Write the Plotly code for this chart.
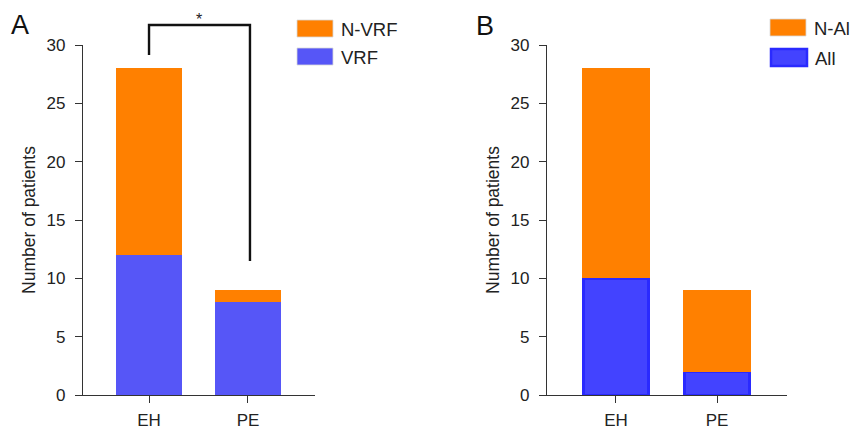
import plotly.graph_objects as go

categories = ["EH", "PE"]
vrf = [12, 8]
n_vrf = [16, 1]
all_vals = [10, 2]
n_all = [18, 7]
yticks = [0, 5, 10, 15, 20, 25, 30]

ORANGE = "#FF8000"
BLUE_A = "#5656F7"
BLUE_B = "#4343FF"
EDGE_B = "#2A2AFF"
FONT = "Liberation Sans, Arial, sans-serif"
AX = "#333333"

# page has an 8px body margin: figure is drawn 8px right/down of the window corner
OFF = 8
W, H = 858 - OFF, 428 - OFF
def px(x): return (x - OFF) / W
def py(y): return 1 - (y - OFF) / H

fig = go.Figure()
fig.add_trace(go.Bar(x=categories, y=vrf, marker=dict(color=BLUE_A, line=dict(width=0)),
                     width=0.66, xaxis="x", yaxis="y", showlegend=False, name="VRF"))
fig.add_trace(go.Bar(x=categories, y=n_vrf, marker=dict(color=ORANGE, line=dict(width=0)),
                     width=0.66, xaxis="x", yaxis="y", showlegend=False, name="N-VRF"))
fig.add_trace(go.Bar(x=categories, y=all_vals, marker=dict(color=BLUE_B, line=dict(width=2.5, color=EDGE_B)),
                     width=0.64, xaxis="x2", yaxis="y2", showlegend=False, name="All"))
fig.add_trace(go.Bar(x=categories, y=n_all, marker=dict(color=ORANGE, line=dict(width=0)),
                     width=0.67, xaxis="x2", yaxis="y2", showlegend=False, name="N-All"))

yax = dict(range=[0, 30], tickvals=yticks, showline=True, linecolor=AX, linewidth=1.3,
           ticks="outside", ticklen=7, tickcolor=AX, showgrid=False, zeroline=False,
           automargin=False, ticklabelstandoff=6,
           tickfont=dict(family=FONT, size=17, color="#222"),
           title=dict(text="Number of patients", font=dict(family=FONT, size=17.5, color="#222"), standoff=6),
           domain=[py(395), py(45)])
xax = dict(type="category", showline=True, linecolor=AX, linewidth=1.3, ticks="outside",
           ticklen=7, tickcolor=AX, showgrid=False, zeroline=False, automargin=False,
           ticklabelstandoff=2,
           tickfont=dict(family=FONT, size=17, color="#222"))

fig.update_layout(
    width=W, height=H, margin=dict(l=0, r=0, t=0, b=0),
    paper_bgcolor="white", plot_bgcolor="white", barmode="stack", bargap=0.3,
    xaxis=dict(xax, domain=[px(83), px(315)], range=[-0.667, 1.677], anchor="y"),
    yaxis=dict(yax, anchor="x"),
    xaxis2=dict(xax, domain=[px(547), px(787)], range=[-0.683, 1.693], anchor="y2"),
    yaxis2=dict(yax, anchor="x2"),
)

# significance bracket (panel A)
fig.add_shape(type="path", xref="x", yref="paper",
              path=f"M 0,{py(55)} L 0,{py(25)} L 1.02,{py(25)} L 1.02,{py(261)}",
              line=dict(color="#111", width=2.4))
fig.add_annotation(x=0.5, y=py(19), xref="x", yref="paper", text="*", showarrow=False,
                   xanchor="center", yanchor="middle",
                   font=dict(family=FONT, size=16, color="#222"))

# panel labels
fig.add_annotation(x=px(20), y=py(25), xref="paper", yref="paper", text="A", showarrow=False,
                   xanchor="center", yanchor="middle",
                   font=dict(family=FONT, size=27, color="#111"))
fig.add_annotation(x=px(485), y=py(26), xref="paper", yref="paper", text="B", showarrow=False,
                   xanchor="center", yanchor="middle",
                   font=dict(family=FONT, size=27, color="#111"))

# legends
def legend_item(x0, y0, color, text, edge=None):
    fig.add_shape(type="rect", xref="paper", yref="paper",
                  x0=px(x0), x1=px(x0 + 36), y0=py(y0 + 17), y1=py(y0),
                  fillcolor=color, line=dict(color=edge or "#d8d8d8", width=2.5 if edge else 0.8))
    fig.add_annotation(x=px(x0 + 42), y=py(y0 + 9), xref="paper", yref="paper", text=text,
                       showarrow=False, xanchor="left", yanchor="middle",
                       font=dict(family=FONT, size=18.5, color="#222"))

legend_item(297, 20, ORANGE, "N-VRF")
legend_item(297, 48, BLUE_A, "VRF")
legend_item(770, 19, ORANGE, "N-All")
legend_item(771, 49, BLUE_B, "All", edge=EDGE_B)

fig.write_html("out.html")
